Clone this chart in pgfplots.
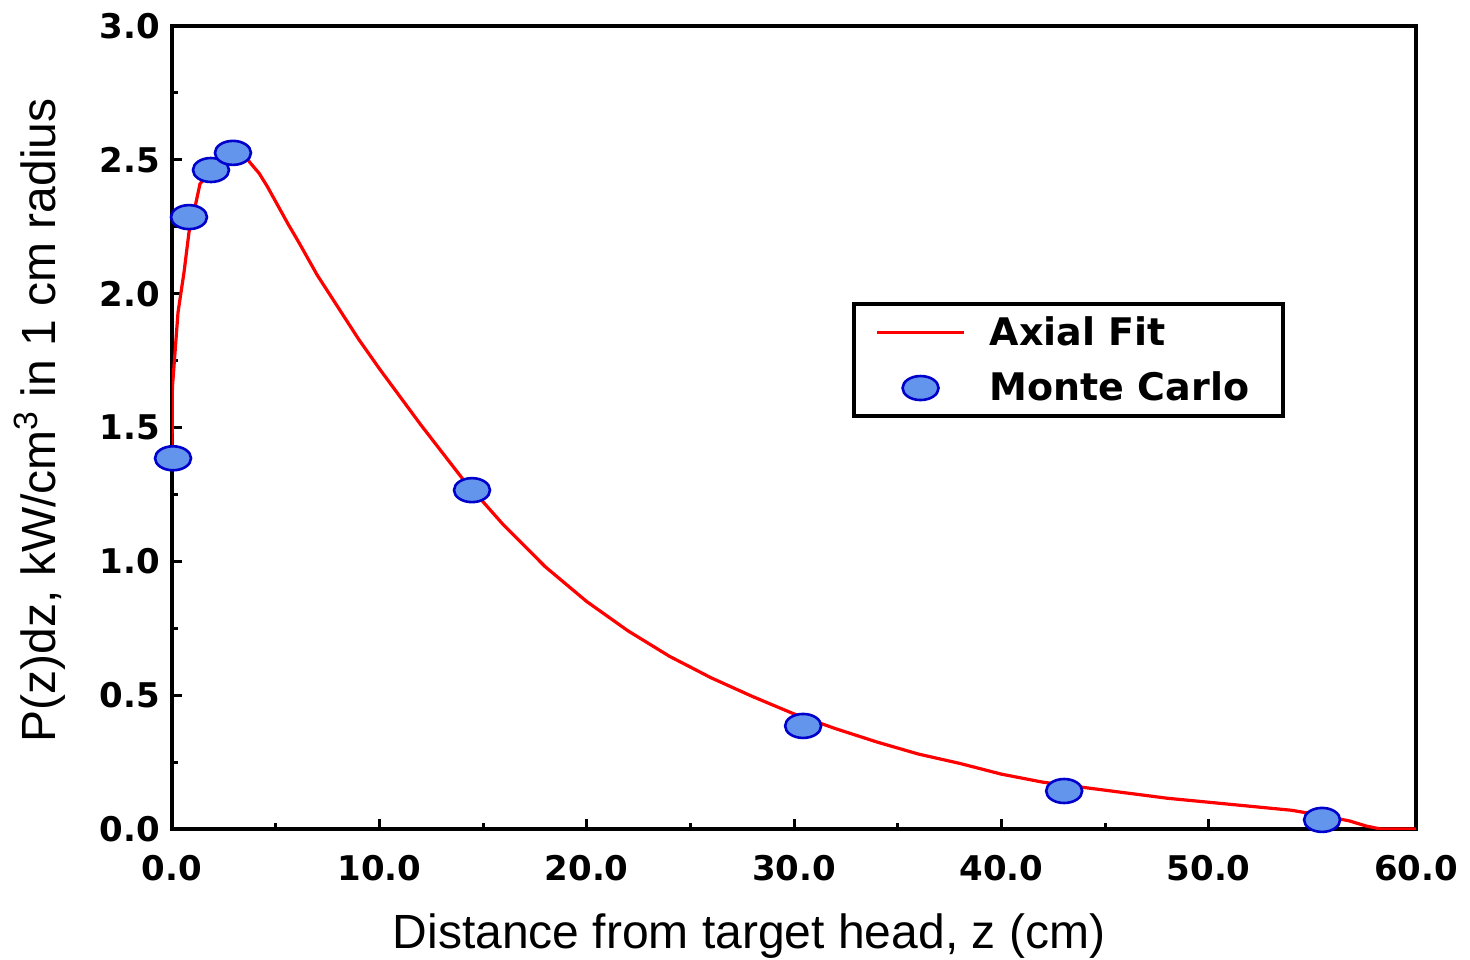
\documentclass[border=0pt]{standalone}
\usepackage{pgfplots}
\pgfplotsset{compat=1.18}
\usepackage{fontspec}
\setmainfont{Liberation Sans}
\newfontfamily\dvs{DejaVu Sans}
\definecolor{mcfill}{RGB}{100,149,237}
\definecolor{mcdraw}{RGB}{0,0,204}
\begin{document}
\begin{tikzpicture}
\begin{axis}[
  name=ax,
  scale only axis, width=622pt, height=401.5pt,
  xmin=0, xmax=60, ymin=0, ymax=3,
  xtick={0,10,...,60}, minor x tick num=1,
  ytick={0,0.5,1,1.5,2,2.5,3}, minor y tick num=1,
  tick align=inside, xtick pos=left, ytick pos=left,
  major tick length=5pt, minor tick length=3pt,
  every tick/.style={black, line width=1.5pt},
  axis line style={line width=2pt},
  /pgf/number format/.cd, fixed, fixed zerofill, precision=1, assume math mode=true,
  /pgfplots/.cd,
  tick label style={font={\dvs\bfseries\fontsize{17}{20}\selectfont}, black},
  xticklabel style={anchor=base, yshift=-25.5pt},
  yticklabel style={anchor=east, xshift=-2.5pt},
  xlabel={Distance from target head, z (cm)},
  ylabel={P(z)dz, kW/cm\textsuperscript{3} in 1 cm radius},
  label style={font=\fontsize{24}{28}\selectfont},
  xlabel style={anchor=base, at={(axis description cs:0.4638,-0.1494)}},
  ylabel style={anchor=base, at={(axis description cs:-0.094,0.509)}},
  legend style={at={(0.547,0.656)}, anchor=north west, draw=black, line width=2pt,
    inner xsep=10.5pt, inner ysep=4pt, row sep=8pt, column sep=12pt,
    font={\dvs\bfseries\fontsize{19}{22}\selectfont},
    nodes={inner xsep=0pt, inner ysep=2pt}},
  legend cell align=left,
]
\addplot[red, line width=1.6pt, no marks,
  legend image code/.code={\draw[red, line width=1.6pt] (0pt,0pt) -- (43.5pt,0pt);}]
coordinates {
(0,1.38) (0.02,1.65) (0.29,1.93) (0.58,2.08) (0.82,2.23) (1.1,2.32) (1.35,2.41)
(1.9,2.46) (2.9,2.52) (3.5,2.52) (3.76,2.49) (4.2,2.45) (4.6,2.40) (5.1,2.33)
(5.6,2.26) (6.13,2.19) (7,2.07) (8,1.95) (9,1.83) (10,1.72)
(12,1.51) (14,1.31) (16,1.135) (18,0.98) (20,0.85) (22,0.74) (24,0.645) (26,0.565)
(28,0.495) (30,0.43) (32,0.375) (34,0.325) (36,0.28) (38,0.245) (40,0.205) (42,0.175)
(44,0.155) (46,0.135) (48,0.115) (50,0.1) (52,0.085) (54,0.07) (55.5,0.05) (56.8,0.03)
(57.6,0.011) (58.3,0) (60,0)
};
\addlegendentry{Axial Fit}
\addplot[only marks, mark=*, mark size=6pt,
  mark options={xscale=1.5, fill=mcfill, draw=mcdraw, line width=1.3pt},
  legend image code/.code={\path[draw=none, fill=none] (0pt,-6pt) rectangle (43.5pt,6pt);
    \draw[mark=*, mark size=6pt, mark options={xscale=1.5, fill=mcfill, draw=mcdraw, line width=1.3pt}] plot coordinates {(21.75pt,0pt)};}]
coordinates {
(0.05,1.385) (0.82,2.286) (1.88,2.462) (2.94,2.526) (14.47,1.266) (30.44,0.385) (43.03,0.142) (55.47,0.034)
};
\addlegendentry{Monte Carlo\rule{6.5pt}{0pt}}
\end{axis}
\pgfresetboundingbox
\path[use as bounding box] ([shift={(-86pt,-65pt)}]ax.south west) rectangle ([shift={(27pt,13pt)}]ax.north east);
\end{tikzpicture}
\end{document}
